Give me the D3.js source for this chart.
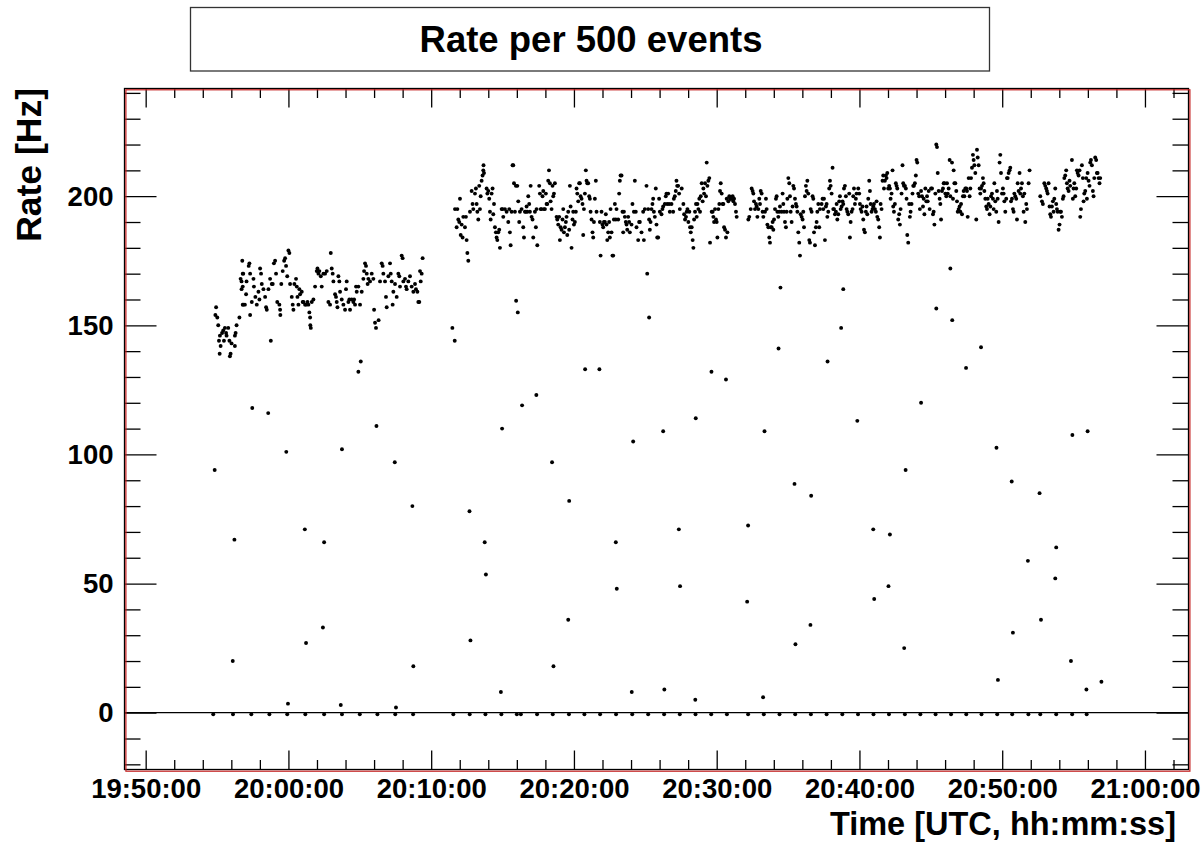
<!DOCTYPE html>
<html><head><meta charset="utf-8">
<script src="https://cdn.jsdelivr.net/npm/d3@7"></script>
<style>
body{margin:0;background:#fff}
svg{display:block}
text{font-family:"Liberation Sans",Arial,Helvetica,sans-serif;font-weight:bold;fill:#000}
</style>
</head><body>
<svg id="c" width="1202" height="845"></svg>
<script>
// ---------------- text ----------------
const chartTitle = "Rate per 500 events";
const xTitle = "Time [UTC, hh:mm:ss]";
const yTitle = "Rate [Hz]";

// ---------------- axes (time in seconds after 19:50:00 UTC) ----------------
const xDomain = [-89, 4383];
const yDomain = [-22.0, 241.7];
const xMajorTicks = [0, 600, 1200, 1800, 2400, 3000, 3600, 4200];
const xTickLabels = ["19:50:00","20:00:00","20:10:00","20:20:00","20:30:00","20:40:00","20:50:00","21:00:00"];
const xMinorTicks = [120,240,360,480,720,840,960,1080,1320,1440,1560,1680,1920,2040,2160,2280,2520,2640,2760,2880,3120,3240,3360,3480,3720,3840,3960,4080,4320];
const yMajorTicks = [0, 50, 100, 150, 200];
const yTickLabels = ["0","50","100","150","200"];
const yMinorTicks = [-20,-10,10,20,30,40,60,70,80,90,110,120,130,140,160,170,180,190,210,220,230,240];

// ---------------- data: [seconds after 19:50:00, rate in Hz] ----------------
// first run, main band
const run1 = [[296,157],[293,154],[301,153],[305,150],[312,146],[308,144],[315,142],[311,139],[326,148],[321,147],[333,149],[338,147],[329,144],[347,149],[340,146],[352,144],[361,143],[357,139],[354,138],[378,147],[375,146],[382,150],[394,153],[375,142],[408,158],[410,158],[417,158],[403,164],[408,165],[399,168],[403,167],[408,170],[406,175],[410,170],[424,167],[422,162],[436,174],[439,170],[433,173],[439,154],[446,159],[453,168],[455,165],[461,161],[467,158],[474,163],[481,172],[485,170],[488,166],[478,160],[495,164],[502,161],[506,157],[509,156],[516,164],[523,168],[534,166],[530,166],[539,174],[544,175],[548,170],[553,159],[562,158],[565,156],[566,154],[570,166],[576,171],[582,175],[586,176],[590,173],[595,169],[600,179],[604,178],[607,166],[614,161],[618,158],[621,156],[625,166],[632,168],[635,165],[638,161],[642,158],[646,164],[649,162],[656,163],[660,159],[663,159],[670,158],[674,158],[680,159],[684,158],[688,155],[691,153],[692,150],[694,149],[698,159],[705,160],[712,165],[719,171],[722,172],[726,170],[730,171],[736,169],[740,165],[747,170],[754,170],[761,171],[768,159],[775,158],[778,178],[782,172],[786,170],[789,167],[796,162],[800,161],[803,159],[806,157],[810,169],[814,167],[817,163],[824,160],[831,158],[838,156],[842,164],[845,167],[852,159],[856,160],[859,156],[866,160],[873,159],[876,160],[880,158],[884,165],[887,163],[894,165],[901,158],[908,163],[915,168],[918,171],[922,174],[926,173],[929,170],[933,166],[936,168],[943,167],[950,170],[957,168],[960,156],[964,151],[968,149],[979,152],[985,167],[992,174],[996,173],[999,170],[1006,167],[1010,161],[1013,157],[1020,169],[1027,174],[1030,170],[1034,167],[1038,158],[1041,163],[1048,166],[1055,161],[1062,170],[1066,169],[1069,165],[1076,177],[1080,176],[1083,167],[1090,168],[1094,165],[1097,164],[1104,167],[1111,169],[1118,165],[1125,163],[1132,166],[1136,164],[1142,163],[1146,159],[1150,159],[1153,171],[1160,170],[1164,176],[1156,167]];

// second run, main band
const run2 = [[1300,195],[1310,195],[1314,191],[1307,188],[1321,199],[1318,190],[1328,189],[1324,185],[1332,184],[1335,192],[1342,188],[1346,192],[1349,183],[1352,178],[1356,175],[1363,194],[1370,202],[1374,197],[1377,195],[1384,201],[1388,203],[1391,197],[1394,194],[1398,191],[1402,204],[1405,195],[1408,200],[1412,206],[1416,208],[1419,210],[1420,212],[1422,209],[1433,203],[1436,201],[1440,202],[1444,199],[1447,194],[1450,191],[1454,201],[1458,203],[1461,193],[1464,197],[1468,188],[1472,186],[1475,184],[1478,183],[1486,187],[1489,180],[1482,186],[1496,195],[1500,195],[1503,192],[1510,195],[1517,194],[1524,190],[1528,195],[1531,186],[1534,181],[1538,194],[1542,212],[1545,212],[1548,205],[1552,194],[1556,204],[1562,204],[1566,198],[1570,190],[1573,194],[1580,195],[1587,188],[1590,184],[1594,194],[1598,194],[1601,196],[1604,194],[1608,200],[1612,197],[1615,194],[1618,204],[1622,192],[1626,191],[1629,184],[1636,194],[1640,188],[1643,195],[1646,181],[1654,204],[1657,201],[1660,195],[1664,195],[1668,200],[1671,202],[1674,195],[1678,195],[1682,201],[1685,197],[1688,197],[1692,206],[1695,210],[1699,205],[1702,198],[1706,195],[1710,204],[1713,200],[1716,201],[1720,205],[1727,192],[1730,191],[1734,189],[1738,192],[1741,183],[1744,188],[1748,187],[1752,191],[1755,195],[1758,186],[1762,188],[1766,190],[1769,192],[1772,185],[1776,194],[1780,187],[1783,204],[1786,196],[1790,180],[1794,191],[1797,194],[1800,189],[1804,190],[1808,194],[1811,203],[1814,201],[1818,198],[1822,205],[1825,205],[1828,200],[1832,199],[1836,197],[1839,185],[1842,195],[1846,201],[1850,210],[1853,206],[1856,205],[1860,205],[1864,200],[1867,199],[1870,194],[1874,191],[1878,186],[1881,184],[1884,190],[1888,199],[1892,206],[1895,194],[1909,190],[1912,177],[1916,194],[1920,189],[1923,188],[1926,190],[1930,190],[1934,193],[1937,189],[1940,183],[1944,186],[1948,190],[1951,184],[1954,195],[1958,186],[1962,177],[1965,177],[1968,191],[1972,197],[1976,191],[1979,195],[1986,191],[1990,201],[1993,206],[1996,208],[2000,208],[2004,194],[2007,186],[2010,194],[2014,192],[2018,190],[2021,189],[2024,187],[2028,192],[2032,190],[2035,186],[2042,189],[2046,197],[2052,194],[2056,206],[2060,194],[2063,188],[2070,183],[2074,190],[2077,190],[2084,186],[2091,194],[2094,183],[2098,195],[2105,204],[2108,170],[2112,195],[2116,191],[2119,187],[2122,190],[2126,195],[2130,197],[2133,199],[2136,194],[2140,192],[2144,203],[2147,189],[2150,184],[2154,184],[2158,199],[2161,194],[2168,193],[2172,195],[2175,196],[2182,197],[2186,200],[2189,201],[2192,197],[2196,201],[2200,197],[2203,194],[2210,197],[2217,194],[2220,199],[2224,200],[2228,202],[2231,206],[2234,204],[2238,204],[2242,201],[2245,195],
[2253,203],[2260,197],[2263,193],[2267,191],[2271,192],[2274,194],[2277,195],[2281,190],[2285,194],[2288,188],[2291,186],[2295,188],[2299,183],[2302,180],[2305,191],[2309,194],[2313,197],[2316,192],[2319,197],[2323,195],[2327,199],[2330,194],[2333,200],[2337,205],[2341,198],[2344,203],[2347,201],[2351,205],[2355,200],[2358,213],[2361,204],[2365,206],[2369,207],[2372,182],[2379,194],[2383,194],[2386,192],[2389,190],[2393,195],[2397,191],[2400,190],[2403,184],[2407,195],[2411,197],[2414,202],[2417,205],[2421,201],[2425,197],[2428,197],[2431,188],[2435,187],[2439,184],[2442,199],[2445,186],[2449,198],[2453,200],[2456,199],[2459,199],[2463,199],[2467,200],[2470,198],[2473,199],[2477,197],[2481,194],[2484,192],
[2533,191],[2537,192],[2543,195],[2547,203],[2551,202],[2554,201],[2557,198],[2561,195],[2565,197],[2568,196],[2571,192],[2575,195],[2579,199],[2582,197],[2585,202],[2589,201],[2593,194],[2596,192],[2603,194],[2607,199],[2610,195],[2613,189],[2617,188],[2621,184],[2624,182],[2627,188],[2631,188],[2635,190],[2638,187],[2641,191],[2645,195],[2649,199],[2652,200],[2655,194],[2659,192],[2663,194],[2666,196],[2673,194],[2677,201],[2680,197],[2683,194],[2687,190],[2691,188],[2694,194],[2697,199],[2701,207],[2705,205],[2708,200],[2711,194],[2715,190],[2719,196],[2722,204],[2725,203],[2729,199],[2733,197],[2736,196],[2739,194],[2743,186],[2747,182],[2750,177],[2753,193],[2757,192],[2761,191],[2764,194],[2767,188],[2771,200],[2775,204],[2778,202],[2781,206],[2785,201],[2789,183],[2792,182],[2795,195],[2799,194],[2803,200],[2806,199],[2809,186],[2813,181],[2817,188],[2820,190],[2823,194],[2827,197],[2831,188],[2834,195],[2841,197],[2845,199],[2848,195],[2851,199],[2855,183],[2859,196],[2862,197],[2865,192],[2869,194],[2873,203],[2876,206],[2879,204],[2883,201],[2887,211],[2890,195],[2893,195],[2897,193],[2901,194],[2904,197],[2907,191],[2911,193],[2915,198],[2918,200],[2921,195],[2925,196],[2929,198],[2932,197],[2935,203],[2939,204],[2943,200],[2946,195],[2949,194],[2953,193],[2957,201],[2960,184],[2963,190],[2967,194],[2971,195],[2974,200],[2977,203],[2981,197],[2985,199],[2988,201],[2995,203],[2999,201],[3002,197],[3005,195],[3009,194],[3013,196],[3016,191],[3019,187],[3023,186],[3027,194],[3030,196],[3033,193],[3037,199],[3041,206],[3044,202],[3047,197],[3051,194],[3055,195],[3058,196],[3061,197],[3065,195],[3069,194],[3072,198],[3075,192],[3079,191],[3083,188],[3086,184],[3089,197],[3093,195],[3097,206],[3100,208],[3103,203],[3107,206],[3111,208],[3114,207],[3117,209],[3121,203],[3125,204],[3128,203],[3131,199],[3135,201],[3139,210],[3142,196],[3145,194],[3149,197],[3153,205],[3156,204],[3159,203],[3163,191],[3167,193],[3170,189],[3173,195],[3177,201],[3181,212],[3184,205],[3187,204],[3191,204],[3195,203],[3198,199],[3201,185],[3205,182],[3209,197],[3212,192],[3215,194],[3219,197],[3223,201],[3226,204],[3229,204],[3233,205],[3237,208],[3240,214],[3243,213],[3247,201],[3251,200],[3254,195],
[3259,202],[3263,200],[3267,196],[3270,199],[3273,193],[3277,203],[3281,198],[3284,200],[3287,198],[3291,202],[3295,195],[3301,203],[3305,203],[3309,193],[3312,194],[3315,189],[3319,201],[3323,220],[3326,219],[3329,209],[3333,202],[3337,199],[3340,197],[3343,191],[3347,202],[3351,203],[3354,205],[3357,205],[3361,201],[3365,200],[3368,205],[3371,201],[3375,203],[3379,214],[3382,200],[3389,213],[3393,199],[3396,210],[3399,205],[3403,205],[3407,202],[3410,198],[3413,194],[3417,195],[3421,196],[3424,194],[3427,197],[3431,193],[3435,200],[3438,202],[3441,200],[3445,203],[3449,203],[3452,202],[3455,192],[3459,207],[3463,200],[3466,203],[3469,207],[3473,211],[3477,216],[3480,214],[3483,212],[3487,209],[3491,191],[3494,218],[3497,215],[3501,212],[3505,203],[3508,201],[3511,203],[3515,204],[3519,207],[3522,205],[3525,202],[3529,199],[3533,196],[3536,195],[3539,199],[3543,197],[3547,193],[3550,196],[3553,200],[3557,201],[3561,199],[3564,195],[3567,205],[3571,198],[3575,194],[3578,202],[3581,199],[3585,190],[3589,213],[3592,216],[3595,209],[3599,201],[3603,203],[3606,201],[3609,198],[3613,194],[3617,199],[3620,207],[3623,207],[3627,209],[3631,210],[3634,211],[3637,198],[3641,199],[3645,195],[3648,194],[3651,201],[3655,200],[3659,199],[3662,191],[3665,205],[3669,202],[3673,209],[3676,201],[3679,203],[3683,205],[3687,200],[3690,194],[3693,201],[3697,190],[3701,197],[3704,195],[3711,205],[3715,210],
[3760,200],[3767,198],[3771,197],[3777,205],[3781,204],[3785,203],[3788,202],[3791,201],[3795,205],[3799,196],[3802,193],[3805,192],[3809,196],[3813,198],[3816,194],[3819,199],[3823,203],[3827,197],[3830,195],[3833,194],[3837,187],[3841,189],[3844,194],[3847,194],[3851,192],[3855,199],[3858,200],[3861,207],[3865,208],[3869,210],[3872,205],[3875,203],[3879,202],[3883,206],[3886,204],[3893,214],[3897,199],[3900,203],[3903,205],[3907,200],[3911,203],[3914,210],[3917,209],[3921,208],[3925,210],[3928,192],[3931,195],[3935,212],[3939,207],[3942,198],[3945,201],[3949,202],[3953,207],[3956,199],[3959,209],[3963,206],[3967,204],[3970,213],[3973,214],[3977,212],[3981,202],[3984,200],[3987,207],[3991,215],[3995,214],[3998,209],[4001,209],[4005,207],[4009,205],[4012,207]];

// isolated low-rate points
const sparse = [[290,94],[373,67],[366,20],[448,118],[515,116],[526,144],[591,101],[598,3.5],[669,71],[674,27],[750,66],[745,33],[825,102],[820,3],[894,132],[904,136],[970,111],[1047,97],[1052,2],[1121,80],[1125,18],
[1289,149],[1299,144],[1361,78],[1365,28],[1425,66],[1430,53.5],[1498,110],[1493,8],[1557,159.5],[1564,155],[1582,119],[1642,123],[1708,97],[1714,18],[1780,82],[1776,36],[1847,133],[1907,133],[1976,66],[1980,48],[2049,105],[2043,8],[2116,153],[2175,109],[2180,9],[2241,71],[2246,49],[2312,114],[2310,5],[2378,132],[2439,129],[2532,72.5],[2528,43],[2601,109],[2595,6],[2668,164.6],[2660,141],[2727,88.6],[2731,26.5],[2797,84],[2794,34],[2866,136],[2932,164],[2923,149],[2991,113],[3058,71],[3062,44],[3128,69],[3122,49],[3194,94],[3188,25],[3259,120],[3323,156.5],[3382,172],[3390,152],[3448,133.5],[3511,141.5],[3576,102.6],[3582,12.7],[3640,89.5],[3645,31],[3708,58.8],[3757,85],[3763,36],[3827,64],[3823,52],[3895,107.5],[3889,20],[3959,109],[3954,9],[4017,12]];

// empty intervals (rate ~0)
const emptyTimes = [284,367,444,520,595,671,750,825,900,974,1049,1124,1293,1362,1428,1495,1560,1577,1645,1711,1779,1844,1910,1977,2045,2112,2179,2245,2311,2377,2443,2532,2598,2664,2730,2796,2862,2928,2994,3059,3124,3191,3256,3320,3385,3449,3513,3579,3642,3710,3760,3827,3894,3955];
const emptyRate = -0.6;

// ---------------- drawing ----------------
const svg = d3.select("#c");
const L = 124.5, R = 1188.5, T = 88.5, B = 769.5;
const x = d3.scaleLinear().domain(xDomain).range([L, R]);
const y = d3.scaleLinear().domain(yDomain).range([B, T]);

svg.append("rect").attr("width",1202).attr("height",845).attr("fill","#fff");

// title box
svg.append("rect").attr("x",190.5).attr("y",7.5).attr("width",799).attr("height",63.5)
  .attr("fill","#fff").attr("stroke","#333").attr("stroke-width",1.3);
svg.append("text").attr("x",591).attr("y",52).attr("text-anchor","middle")
  .attr("font-size",36.5).text(chartTitle);

function styleAxis(g, fs){
  g.select(".domain").remove();
  g.attr("font-family",'"Liberation Sans",Arial,sans-serif').attr("font-weight","bold").attr("font-size",fs);
  g.selectAll("line").attr("stroke","#000").attr("stroke-width",1.3);
}
const XTF = 27.5, YTF = 27.5;
// bottom
svg.append("g").attr("transform",`translate(0,${B})`)
  .call(d3.axisBottom(x).tickValues(xMajorTicks).tickSize(-19).tickPadding(9).tickFormat((d,i)=>xTickLabels[i]))
  .call(g=>styleAxis(g,XTF));
svg.append("g").attr("transform",`translate(0,${B})`)
  .call(d3.axisBottom(x).tickValues(xMinorTicks).tickSize(-9.5).tickFormat(""))
  .call(g=>styleAxis(g,XTF));
// top
svg.append("g").attr("transform",`translate(0,${T})`)
  .call(d3.axisTop(x).tickValues(xMajorTicks).tickSize(-19).tickFormat(""))
  .call(g=>styleAxis(g,XTF));
svg.append("g").attr("transform",`translate(0,${T})`)
  .call(d3.axisTop(x).tickValues(xMinorTicks).tickSize(-9.5).tickFormat(""))
  .call(g=>styleAxis(g,XTF));
// left
svg.append("g").attr("transform",`translate(${L},0)`)
  .call(d3.axisLeft(y).tickValues(yMajorTicks).tickSize(-32).tickPadding(11).tickFormat((d,i)=>yTickLabels[i]))
  .call(g=>styleAxis(g,YTF));
svg.append("g").attr("transform",`translate(${L},0)`)
  .call(d3.axisLeft(y).tickValues(yMinorTicks).tickSize(-16).tickFormat(""))
  .call(g=>styleAxis(g,YTF));
// right
svg.append("g").attr("transform",`translate(${R},0)`)
  .call(d3.axisRight(y).tickValues(yMajorTicks).tickSize(-32).tickFormat(""))
  .call(g=>styleAxis(g,YTF));
svg.append("g").attr("transform",`translate(${R},0)`)
  .call(d3.axisRight(y).tickValues(yMinorTicks).tickSize(-16).tickFormat(""))
  .call(g=>styleAxis(g,YTF));

// zero line
svg.append("line").attr("x1",L).attr("x2",R).attr("y1",y(0)).attr("y2",y(0))
  .attr("stroke","#000").attr("stroke-width",1.3);

// frame: black axes and red pad frame
svg.append("rect").attr("x",L).attr("y",T).attr("width",R-L).attr("height",B-T)
  .attr("fill","none").attr("stroke","#000").attr("stroke-width",1.3);
svg.append("rect").attr("x",L+1.4).attr("y",T+1.3).attr("width",R-L).attr("height",B-T+0.4)
  .attr("fill","none").attr("stroke","#c41e1e").attr("stroke-width",1.2);

// points
const pts = svg.append("g").attr("fill","#000");
function dots(data){
  pts.selectAll(null).data(data).enter().append("circle")
    .attr("cx",d=>x(d[0])).attr("cy",d=>y(d[1])).attr("r",1.95);
}
dots(run1); dots(run2); dots(sparse);
pts.selectAll(null).data(emptyTimes).enter().append("circle")
  .attr("cx",d=>x(d)).attr("cy",y(emptyRate)).attr("r",1.95);

// axis titles
svg.append("text").attr("x",1176).attr("y",835).attr("text-anchor","end")
  .attr("font-size",32.5).text(xTitle);
svg.append("text").attr("transform","translate(41,88) rotate(-90)").attr("text-anchor","end")
  .attr("font-size",35.5).text(yTitle);
</script>
</body></html>
